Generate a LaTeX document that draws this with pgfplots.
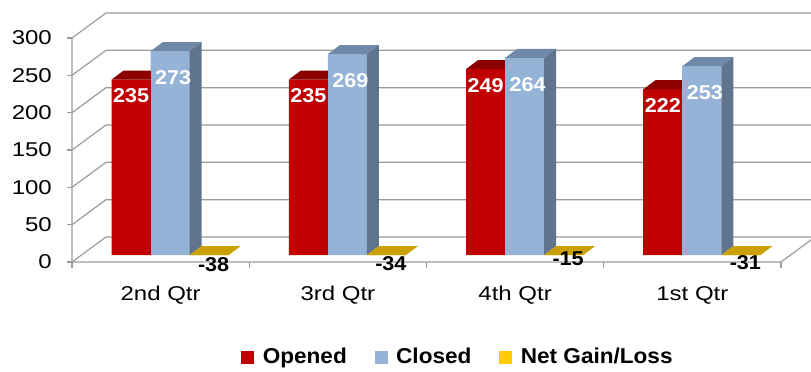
\documentclass[border=0pt]{standalone}
\usepackage{pgfplots}
\usepackage{pgfplotstable}
\pgfplotsset{compat=1.18}
\usepackage{fontspec}
\setmainfont{Liberation Sans}[FakeStretch=1.2]
\newfontfamily\legfont{Liberation Sans}[FakeStretch=1.05]
\newfontfamily\labfont{Liberation Sans}[FakeStretch=1.08]

\definecolor{openf}{RGB}{192,0,0}
\definecolor{opent}{RGB}{140,0,0}
\definecolor{closef}{RGB}{149,179,215}
\definecolor{closet}{RGB}{113,137,168}
\definecolor{closes}{RGB}{96,116,144}
\definecolor{netf}{RGB}{255,204,0}
\definecolor{nett}{RGB}{201,160,0}
\definecolor{gridc}{RGB}{155,155,155}

% quarterly counts
\pgfplotstableread{
x v
0 235
1 235
2 249
3 222
}\opened
\pgfplotstableread{
x v
0 273
1 269
2 264
3 253
}\closed
\pgfplotstableread{
x v
0 -38
1 -34
2 -15
3 -31
}\net

% a bar as a box: front, top and right faces, drawn from the top-centre of the front face
% #1 mark name, #2 front colour, #3 top colour, #4 side colour, #5 shift from the category centre
\newcommand\defprism[5]{%
  \pgfdeclareplotmark{#1}{%
    \pgfmathsetlengthmacro{\hh}{max(\h,0)*0.749467}%
    \pgfmathsetlengthmacro{\hb}{9.03375-max(\h,0)*0.749467}%
    \pgftransformxshift{#5}%
    \pgfsetfillcolor{#2}%
    \pgfpathrectanglecorners{\pgfqpoint{-19.5bp}{-\hh}}{\pgfqpoint{19.5bp}{0bp}}%
    \pgfusepath{fill}%
    \pgfsetfillcolor{#3}%
    \pgfpathmoveto{\pgfqpoint{-19.5bp}{0bp}}%
    \pgfpathlineto{\pgfqpoint{19.5bp}{0bp}}%
    \pgfpathlineto{\pgfqpoint{31.5bp}{9bp}}%
    \pgfpathlineto{\pgfqpoint{-7.5bp}{9bp}}%
    \pgfpathclose
    \pgfusepath{fill}%
    \pgfsetfillcolor{#4}%
    \pgfpathmoveto{\pgfqpoint{19.5bp}{0bp}}%
    \pgfpathlineto{\pgfqpoint{31.5bp}{9bp}}%
    \pgfpathlineto{\pgfqpoint{31.5bp}{\hb}}%
    \pgfpathlineto{\pgfqpoint{19.5bp}{-\hh}}%
    \pgfpathclose
    \pgfusepath{fill}%
  }}
\defprism{openprism}{openf}{opent}{opent}{-39bp}
\defprism{closeprism}{closef}{closet}{closes}{0bp}
\defprism{netprism}{netf}{nett}{nett}{39bp}

\tikzset{
  front/.style={shift={(-9.5bp,-7bp)}},
  back/.style={shift={(24.5bp,18bp)}},
  barlabel/.style={inner sep=0pt, font=\labfont\bfseries\fontsize{20bp}{20bp}\selectfont},
}

\begin{document}
\begin{tikzpicture}
\useasboundingbox (0,0) rectangle (811bp,-372bp);
\begin{axis}[
  at={(81.5bp,-255bp)}, anchor=south west,
  x=177.25bp, y=0.746667bp,
  xmin=-0.5, xmax=3.5, ymin=0, ymax=300,
  clip=false,
  axis line style={draw=none},
  major tick length=0pt,
  xtick={0,1,2,3},
  xticklabels={2nd Qtr,3rd Qtr,4th Qtr,1st Qtr},
  ytick={0,50,...,300},
  /pgf/number format/assume math mode=true,
  ticklabel style={inner sep=0pt},
  yticklabel style={anchor=east, xshift=-29.5bp, yshift=-7bp,
    font=\fontsize{20bp}{20bp}\selectfont},
  xticklabel style={anchor=base, xshift=-9.5bp, yshift=-45bp,
    font=\fontsize{20bp}{20bp}\selectfont},
  legend style={at={(0.531,-0.455)}, anchor=center, draw=none, fill=none,
    font=\legfont\bfseries\fontsize{21.5bp}{21.5bp}\selectfont,
    legend columns=-1,
    /tikz/every even column/.append style={column sep=26bp}},
  bar width=39bp,
]
% walls: side-wall diagonals and back-wall gridlines
\pgfplotsinvokeforeach{0,50,100,150,200,250,300}{%
  \draw[gridc, line width=1.2bp]
    ([front]axis cs:-0.5,#1) -- ([back]axis cs:-0.5,#1) -- ([back]axis cs:3.5,#1);
  \draw[gridc, line width=1.2bp]
    ([front]axis cs:-0.5,#1) -- ([front, xshift=-5bp]axis cs:-0.5,#1);
}
% front axis lines and floor edge
\draw[gridc, line width=1.2bp]
  ([front]axis cs:-0.5,300) -- ([front]axis cs:-0.5,0) -- ([front]axis cs:3.5,0)
  -- ([back]axis cs:3.5,0);
\pgfplotsinvokeforeach{-0.5,0.5,1.5,2.5,3.5}{%
  \draw[gridc, line width=1.2bp]
    ([front]axis cs:#1,0) -- ([front, yshift=-6bp]axis cs:#1,0);
}

% Opened
\addplot[forget plot, ybar, bar shift=-39bp, fill=openf, draw=none]
  table[x=x, y=v] {\opened};
\addplot[forget plot, only marks, scatter, mark=openprism,
  visualization depends on={\thisrow{v} \as \h},
  nodes near coords,
  nodes near coords style={barlabel, anchor=north, yshift=-9bp, text=white}]
  table[x=x, y=v] {\opened};
% Closed
\addplot[forget plot, ybar, bar shift=0bp, fill=closef, draw=none]
  table[x=x, y=v] {\closed};
\addplot[forget plot, only marks, scatter, mark=closeprism,
  visualization depends on={\thisrow{v} \as \h},
  nodes near coords,
  nodes near coords style={barlabel, anchor=north, xshift=3bp, yshift=-19bp, text=white}]
  table[x=x, y=v] {\closed};
% Net Gain/Loss: below the floor, so only the face lying on the floor shows
\addplot[forget plot, only marks, scatter, mark=netprism,
  point meta=explicit,
  y filter/.expression={max(y,0)},
  visualization depends on={\thisrow{v} \as \h},
  nodes near coords,
  nodes near coords style={barlabel, anchor=center, xshift=4.5bp, yshift=0.26*\h,
    text=black}]
  table[x=x, y=v, meta=v] {\net};

\addlegendimage{legend image code/.code={\fill[openf] (0bp,-6bp) rectangle (12bp,6bp); \path (19bp,0bp);}}
\addlegendimage{legend image code/.code={\fill[closef] (0bp,-6bp) rectangle (12bp,6bp); \path (19bp,0bp);}}
\addlegendimage{legend image code/.code={\fill[netf] (0bp,-6bp) rectangle (12bp,6bp); \path (19bp,0bp);}}
\legend{Opened,Closed,Net Gain/Loss}
\end{axis}
\end{tikzpicture}
\end{document}
